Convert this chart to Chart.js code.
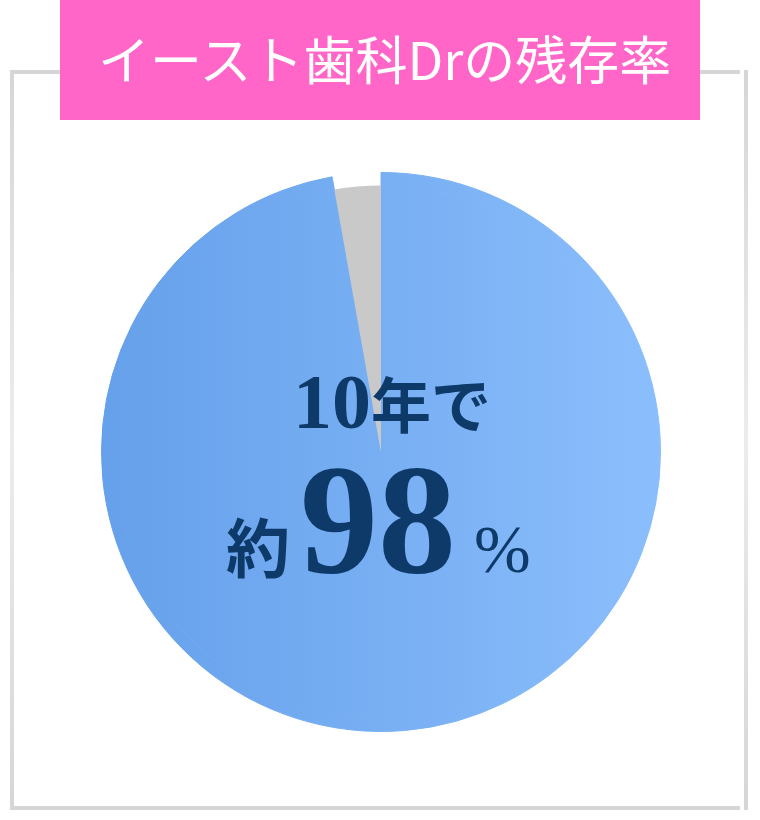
<!DOCTYPE html>
<html lang="ja">
<head>
<meta charset="utf-8">
<title>イースト歯科Drの残存率</title>
<script src="https://cdn.jsdelivr.net/npm/chart.js@4.4.1/dist/chart.umd.min.js"></script>
<style>
  html, body { margin: 0; padding: 0; background: #fff; }
  #wrap { position: relative; width: 760px; height: 820px; overflow: hidden; }
  .frame { position: absolute; left: 10px; top: 70px; width: 730px; height: 732px;
           border-top: 4px solid #d6d6d6; border-bottom: 4px solid #d6d6d6; }
  .side { position: absolute; top: 70px; width: 4px; height: 740px;
          background: linear-gradient(#d6d6d6, #ececec 50%, #d6d6d6); }
  .title { position: absolute; left: 60px; top: 0; width: 640px; height: 120px;
           background: #ff66c8; color: #fff; font-family: "Noto Sans CJK JP", sans-serif;
           font-size: 52px; font-weight: 400; line-height: 116px; box-sizing: border-box;
           padding-left: 38px; white-space: nowrap; }
  #chartBox { position: absolute; left: 101px; top: 172px; width: 560px; height: 560px; }
  .center { position: absolute; left: 0; width: 760px; color: #0e3a6a; white-space: nowrap;
            font-family: "Liberation Serif", "Noto Sans CJK JP", serif; }
  .line1 { top: 352px; padding-left: 293px; font-size: 78px; font-weight: bold; line-height: 100px; }
  .line1 .jp { font-family: "Noto Sans CJK JP", sans-serif; font-size: 60px; font-weight: 700; }
  .line2 { top: 450px; padding-left: 226px; line-height: 140px; }
  .line2 .jp { font-family: "Noto Sans CJK JP", sans-serif; font-size: 64px; font-weight: 700;
               padding-right: 10px; }
  .line2 .num { font-size: 156px; font-weight: bold; }
  .line2 .pc { font-size: 68px; padding-left: 18px; }
</style>
</head>
<body>
<div id="wrap">
  <div class="frame"></div>
  <div class="side" style="left:10px"></div>
  <div class="side" style="left:744px"></div>
  <div class="title">イースト歯科Drの残存率</div>
  <div id="chartBox"><canvas id="pieChart"></canvas></div>
  <div class="center line1">10<span class="jp">年で</span></div>
  <div class="center line2"><span class="jp">約</span><span class="num">98</span><span class="pc">%</span></div>
</div>
<script>
// datos del gráfico
const etiquetas = ['残存', 'その他'];
const valores = [97.2, 2.8];

// degradado horizontal azul
function azul(chart) {
    const area = chart.chartArea;
    if (!area) return '#79b0f4';
    const g = chart.ctx.createLinearGradient(area.left, 0, area.right, 0);
    g.addColorStop(0, '#65a0ea');
    g.addColorStop(1, '#8bbefc');
    return g;
}

const ctx = document.getElementById('pieChart').getContext('2d');
new Chart(ctx, {
    type: 'pie',
    data: {
        labels: etiquetas,
        datasets: [{
            // anillo exterior: el gris queda más corto
            data: valores,
            backgroundColor: (c) => c.dataIndex === 0 ? azul(c.chart) : 'rgba(0,0,0,0)',
            borderColor: (c) => c.dataIndex === 0 ? azul(c.chart) : 'rgba(0,0,0,0)',
            borderWidth: (c) => c.dataIndex === 0 ? 1 : 0,
            weight: 13
        }, {
            data: valores,
            backgroundColor: (c) => c.dataIndex === 0 ? azul(c.chart) : '#c9c9c9',
            borderColor: (c) => c.dataIndex === 0 ? azul(c.chart) : '#c9c9c9',
            borderWidth: (c) => c.dataIndex === 0 ? 1 : 0,
            weight: 267
        }]
    },
    options: {
        responsive: true,
        maintainAspectRatio: false,
        animation: false,
        layout: { padding: 0 },
        plugins: { legend: { display: false }, tooltip: { enabled: false } }
    }
});
</script>
</body>
</html>
